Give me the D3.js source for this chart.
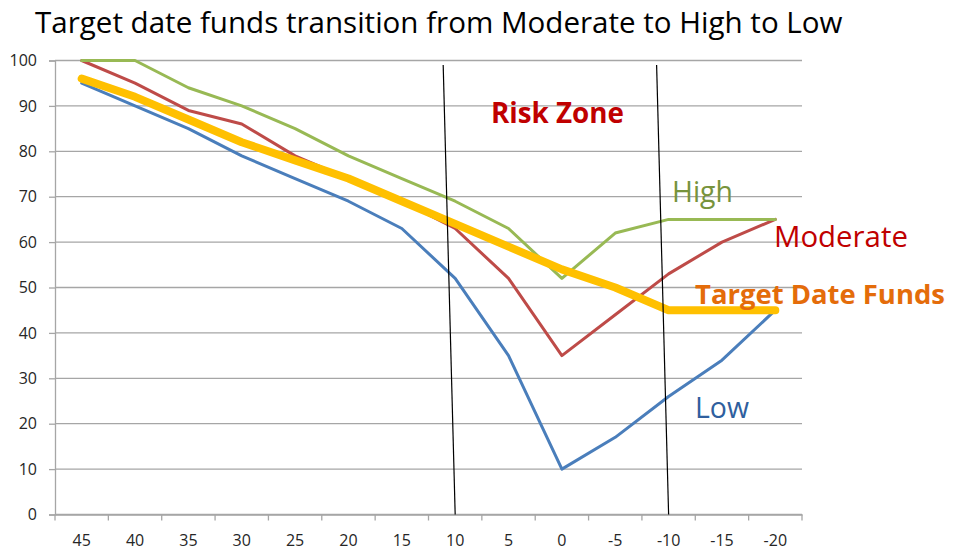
<!DOCTYPE html>
<html>
<head>
<meta charset="utf-8">
<script src="https://cdn.jsdelivr.net/npm/d3@7"></script>
<style>
  html, body { margin: 0; padding: 0; background: #fff; }
  svg { display: block; font-family: "Open Sans", sans-serif; }
</style>
</head>
<body>
<svg id="chart" width="975" height="557"></svg>
<script>
const categories = ["45","40","35","30","25","20","15","10","5","0","-5","-10","-15","-20"];
const low      = [95, 90, 85, 79, 74, 69, 63, 52, 35, 10, 17, 26, 34, 45];
const moderate = [100, 95, 89, 86, 79, 74, 69, 63, 52, 35, 44, 53, 60, 65];
const high     = [100, 100, 94, 90, 85, 79, 74, 69, 63, 52, 62, 65, 65, 65];
const target   = [96, 92, 87, 82, 78, 74, 69, 64, 59, 54, 50, 45, 45, 45];
const yTicks   = [0, 10, 20, 30, 40, 50, 60, 70, 80, 90, 100];
const zoneEdges = ["10", "-10"];

const svg = d3.select("#chart");
const mLeft = 55, mRight = 802, mTop = 60.5, mBottom = 514.5;

const x = d3.scaleBand().domain(categories).range([mLeft, mRight]);
const y = d3.scaleLinear().domain([0, 100]).range([mBottom, mTop]);
const cx = c => x(c) + x.bandwidth() / 2;

// gridlines
svg.append("g").selectAll("line").data(yTicks).join("line")
  .attr("x1", mLeft).attr("x2", mRight)
  .attr("y1", d => y(d)).attr("y2", d => y(d))
  .attr("stroke", "#a6a6a6").attr("stroke-width", 1.3);

// y axis
const yAxis = svg.append("g").attr("transform", `translate(${mLeft},0)`)
  .call(d3.axisLeft(y).tickValues(yTicks).tickSize(6).tickPadding(12));
yAxis.select(".domain").attr("stroke", "#a6a6a6").attr("stroke-width", 1.3);
yAxis.selectAll(".tick line").attr("stroke", "#a6a6a6").attr("stroke-width", 1.3);
yAxis.selectAll("text").attr("font-size", 16).attr("fill", "#262626")
  .attr("font-family", "Open Sans, sans-serif");

// x axis
const xAxis = svg.append("g").attr("transform", `translate(0,${mBottom})`)
  .call(d3.axisBottom(x).tickSize(0).tickPadding(20));
xAxis.select(".domain").attr("stroke", "#a6a6a6").attr("stroke-width", 1.3);
xAxis.selectAll("text").attr("font-size", 16).attr("fill", "#262626")
  .attr("font-family", "Open Sans, sans-serif");
const bounds = categories.map(c => x(c)).concat([mRight]);
svg.append("g").selectAll("line").data(bounds).join("line")
  .attr("x1", d => d).attr("x2", d => d)
  .attr("y1", mBottom).attr("y2", mBottom + 6)
  .attr("stroke", "#a6a6a6").attr("stroke-width", 1.3);

const line = d3.line().x((d, i) => cx(categories[i])).y(d => y(d));

const series = [
  { vals: low, color: "#4a7ebb", w: 3 },
  { vals: moderate, color: "#be4b48", w: 3 },
  { vals: high, color: "#98b954", w: 3 },
  { vals: target, color: "#ffc000", w: 8 }
];
svg.append("g").selectAll("path").data(series).join("path")
  .attr("d", d => line(d.vals))
  .attr("fill", "none")
  .attr("stroke", d => d.color)
  .attr("stroke-width", d => d.w)
  .attr("stroke-linejoin", "round")
  .attr("stroke-linecap", "round");

// risk zone boundary lines (slightly tilted, hand drawn)
svg.append("g").selectAll("line").data(zoneEdges).join("line")
  .attr("x1", d => cx(d) - 12).attr("y1", y(99))
  .attr("x2", d => cx(d)).attr("y2", y(0))
  .attr("stroke", "#000").attr("stroke-width", 1.2);

// fit font size to a target text width
function fit(sel, w, s0) {
  sel.attr("font-size", s0);
  const cw = sel.node().getComputedTextLength();
  sel.attr("font-size", s0 * w / cw);
}

// title
fit(svg.append("text").attr("x", 35).attr("y", 33).attr("fill", "#000")
  .text("Target date funds transition from Moderate to High to Low"), 808, 27);

// annotations
const ann = [
  { t: "Risk Zone", x: 491, y: 123, c: "#c00000", w: 133, b: true },
  { t: "High", x: 672, y: 202, c: "#77933c", w: 61, b: false },
  { t: "Moderate", x: 774, y: 247, c: "#c00000", w: 134, b: false },
  { t: "Target Date Funds", x: 695, y: 304, c: "#e46c0a", w: 250, b: true },
  { t: "Low", x: 695, y: 418, c: "#2f5f9e", w: 54, b: false }
];
ann.forEach(d => {
  fit(svg.append("text").attr("x", d.x).attr("y", d.y).attr("fill", d.c)
    .attr("font-weight", d.b ? "bold" : "normal").text(d.t), d.w, 26);
});
</script>
</body>
</html>
